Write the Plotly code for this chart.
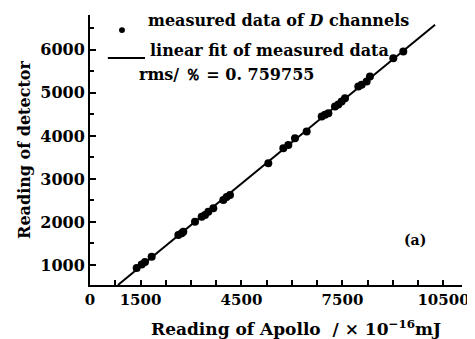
import plotly.graph_objects as go

# measured data (Apollo reading, detector reading)
apollo = [1386, 1535, 1634, 1832, 2624, 2723, 2772, 3119, 3317, 3416, 3515, 3663,
          3960, 4059, 4158, 5297, 5742, 5891, 6089, 6436, 6882, 6981, 7080, 7277,
          7376, 7475, 7574, 7970, 8069, 8218, 8316, 9010, 9306]
detector = [930, 1010, 1070, 1194, 1698, 1740, 1775, 2007, 2120, 2163, 2240, 2318,
            2512, 2580, 2628, 3364, 3713, 3791, 3946, 4100, 4449, 4490, 4527, 4682,
            4730, 4798, 4876, 5147, 5190, 5263, 5380, 5806, 5961]

# linear fit
fit_slope = 0.642
fit_intercept = 2
fit_x = [830, 10250]
fit_y = [fit_slope * v + fit_intercept for v in fit_x]

x_tickvals = [0, 1500, 4500, 7500, 10500]
x_ticktext = ["0", "1500", "4500", "7500", "10500"]
y_tickvals = [1000, 2000, 3000, 4000, 5000, 6000]
y_ticktext = ["1000", "2000", "3000", "4000", "5000", "6000"]

FONT = "DejaVu Serif"

fig = go.Figure()
fig.add_trace(go.Scatter(x=fit_x, y=fit_y, mode="lines",
                         line=dict(color="black", width=2), showlegend=False))
fig.add_trace(go.Scatter(x=apollo, y=detector, mode="markers",
                         marker=dict(color="black", size=8), showlegend=False))

fig.update_layout(
    width=467, height=331,
    margin=dict(l=82, r=13, t=7, b=54, autoexpand=False),
    plot_bgcolor="white", paper_bgcolor="white",
    font=dict(family=FONT, size=15, color="black"),
    xaxis=dict(range=[0, 11050], tickvals=x_tickvals,
               ticktext=["<b>%s</b>" % t for t in x_ticktext],
               ticks="inside", ticklen=5,
               tickwidth=1.5, tickcolor="black", showline=True, linecolor="black",
               linewidth=2, showgrid=False, zeroline=False,
               tickfont=dict(family=FONT, size=15, color="black"),
               minor=dict(dtick=750, tick0=0, ticks="inside", ticklen=5,
                          tickwidth=1.5, tickcolor="black", showgrid=False)),
    yaxis=dict(range=[535, 6810], tickvals=y_tickvals,
               ticktext=["<b>%s</b>" % t for t in y_ticktext],
               ticks="inside", ticklen=6,
               tickwidth=1.5, tickcolor="black", showline=True, linecolor="black",
               linewidth=2, showgrid=False, zeroline=False,
               tickfont=dict(family=FONT, size=16, color="black"),
               minor=dict(dtick=500, tick0=0, ticks="inside", ticklen=4,
                          tickwidth=1.5, tickcolor="black", showgrid=False),
               title=dict(text="<b>Reading of detector</b>",
                          font=dict(family=FONT, size=16), standoff=6)),
)

# x-axis title (offset to the right as in the original)
fig.add_annotation(xref="paper", yref="paper", x=0.554, y=-0.159, xanchor="center",
                   yanchor="middle", showarrow=False,
                   text="<b>Reading of Apollo  / × 10<sup>−16</sup>mJ</b>",
                   font=dict(family=FONT, size=17))

# legend-like annotations
fig.add_annotation(xref="paper", yref="paper", x=0.150, y=0.978, xanchor="left",
                   yanchor="middle", showarrow=False,
                   text="<b>measured data of <i>D</i> channels</b>",
                   font=dict(family=FONT, size=16))
fig.add_annotation(xref="paper", yref="paper", x=0.155, y=0.870, xanchor="left",
                   yanchor="middle", showarrow=False,
                   text="<b>linear fit of measured data</b>",
                   font=dict(family=FONT, size=16))
fig.add_annotation(xref="paper", yref="paper", x=0.125, y=0.778, xanchor="left",
                   yanchor="middle", showarrow=False,
                   text="<b>rms/ ％ = 0. 759755</b>",
                   font=dict(family=FONT, size=16))
fig.add_annotation(xref="paper", yref="paper", x=0.874, y=0.167, xanchor="center",
                   yanchor="middle", showarrow=False, text="<b>(a)</b>",
                   font=dict(family=FONT, size=14))
fig.add_shape(type="circle", xref="paper", yref="paper",
              x0=0.078, x1=0.094, y0=0.933, y1=0.955,
              fillcolor="black", line=dict(color="black", width=0))
fig.add_shape(type="line", xref="paper", yref="paper",
              x0=0.048, x1=0.148, y0=0.841, y1=0.841,
              line=dict(color="black", width=2))

fig.write_html("out.html")
